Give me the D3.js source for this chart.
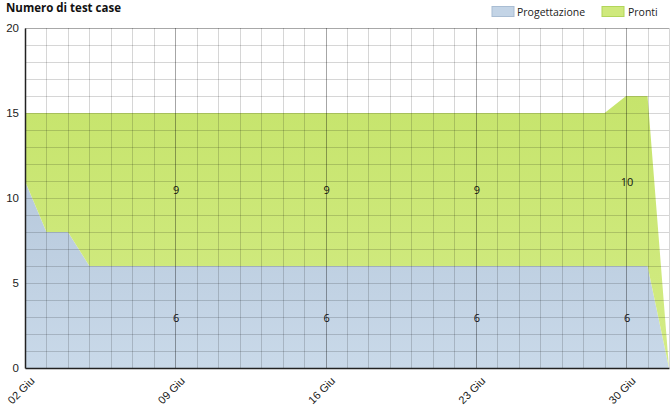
<!DOCTYPE html>
<html>
<head>
<meta charset="utf-8">
<script src="https://cdn.jsdelivr.net/npm/d3@7"></script>
<style>
  body { margin: 0; background: #fff; }
  svg { display: block; font-family: "Open Sans", "Noto Sans", sans-serif; }
</style>
</head>
<body>
<div id="chart"></div>
<script>
// data, one entry per day from 02 Giu to 02 Lug
const days = d3.range(0, 31).map(i => new Date(2013, 5, 2 + i));
const progettazione = [11, 8, 8, 6, 6, 6, 6, 6, 6, 6, 6, 6, 6, 6, 6, 6, 6, 6, 6, 6, 6, 6, 6, 6, 6, 6, 6, 6, 6, 6, 0];
const pronti =        [4, 7, 7, 9, 9, 9, 9, 9, 9, 9, 9, 9, 9, 9, 9, 9, 9, 9, 9, 9, 9, 9, 9, 9, 9, 9, 9, 9, 10, 10, 0];
const tickDates = [new Date(2013, 5, 2), new Date(2013, 5, 9), new Date(2013, 5, 16), new Date(2013, 5, 23), new Date(2013, 5, 30)];
const labelDays = [7, 14, 21, 28];
const yTicks = [0, 5, 10, 15, 20];
const seriesNames = ["Progettazione", "Pronti"];

const width = 671, height = 406;
const margin = { top: 28, right: 2, bottom: 38, left: 25 };

const svg = d3.select("#chart").append("svg")
  .attr("width", width)
  .attr("height", height);

const x = d3.scaleTime()
  .domain([days[0], days[days.length - 1]])
  .range([margin.left, width - margin.right]);
const y = d3.scaleLinear()
  .domain([0, 20])
  .range([height - margin.bottom, margin.top]);

const defs = svg.append("defs");
function grad(id, c1, c2) {
  const g = defs.append("linearGradient").attr("id", id)
    .attr("x1", 0).attr("y1", 0).attr("x2", 0).attr("y2", 1);
  g.append("stop").attr("offset", "0%").attr("stop-color", c1);
  g.append("stop").attr("offset", "100%").attr("stop-color", c2);
}
grad("gBlue", "#b7c9dc", "#c9d9e9");
grad("gGreen", "#c6e46c", "#d4ec86");

const rows = days.map((d, i) => ({ date: d, Progettazione: progettazione[i], Pronti: pronti[i] }));
const stacked = d3.stack().keys(seriesNames)(rows);

const area = d3.area()
  .x(d => x(d.data.date))
  .y0(d => y(d[0]))
  .y1(d => y(d[1]));

svg.append("g").selectAll("path")
  .data(stacked)
  .join("path")
  .attr("d", area)
  .attr("fill", (d, i) => i === 0 ? "url(#gBlue)" : "url(#gGreen)");

// grid drawn on top with transparency
const grid = svg.append("g");
grid.selectAll("line.h")
  .data(d3.range(1, 21))
  .join("line")
  .attr("x1", margin.left).attr("x2", width - margin.right)
  .attr("y1", d => Math.round(y(d)) + 0.5).attr("y2", d => Math.round(y(d)) + 0.5)
  .attr("stroke", d => d === 20 ? "#a8a8a8" : "#000")
  .attr("stroke-opacity", d => d === 20 ? 1 : 0.16);
grid.selectAll("line.v")
  .data(days.slice(1))
  .join("line")
  .attr("x1", d => Math.round(x(d)) + 0.5).attr("x2", d => Math.round(x(d)) + 0.5)
  .attr("y1", margin.top).attr("y2", height - margin.bottom)
  .attr("stroke", "#000")
  .attr("stroke-opacity", (d, i) => (i + 1) % 7 === 0 ? 0.35 : 0.16);

// value labels
const labels = svg.append("g").attr("font-size", 11).attr("fill", "#111").attr("text-anchor", "middle");
labelDays.forEach(i => {
  labels.append("text")
    .attr("x", x(days[i]) + 1)
    .attr("y", y(progettazione[i] / 2))
    .attr("dy", "0.45em")
    .text(progettazione[i]);
  labels.append("text")
    .attr("x", x(days[i]) + 1)
    .attr("y", y(progettazione[i] + pronti[i] / 2))
    .attr("dy", "0.45em")
    .text(pronti[i]);
});

// axes
const yAxis = svg.append("g")
  .attr("transform", `translate(${margin.left},0)`)
  .call(d3.axisLeft(y).tickValues(yTicks).tickSize(0).tickPadding(6));
yAxis.select(".domain").attr("stroke", "#222").attr("stroke-width", 1.5);
yAxis.selectAll("text").attr("font-size", 11.5).attr("fill", "#222").attr("font-family", null);

const fmt = d3.timeFormat("%d");
const xAxis = svg.append("g")
  .attr("transform", `translate(0,${height - margin.bottom})`)
  .call(d3.axisBottom(x).tickValues(tickDates).tickSize(0).tickFormat(d => fmt(d) + " Giu"));
xAxis.select(".domain").attr("stroke", "#222").attr("stroke-width", 1.5);
xAxis.selectAll("text")
  .attr("font-size", 11).attr("fill", "#222").attr("font-family", null)
  .attr("text-anchor", "end")
  .attr("transform", "translate(7,11) rotate(-45)")
  .attr("dy", "0.35em").attr("y", 0).attr("x", 0);

// title
svg.append("text")
  .attr("x", 6).attr("y", 12)
  .attr("font-size", 11.5).attr("font-weight", "bold").attr("fill", "#111")
  .text("Numero di test case");

// legend
const legend = svg.append("g").attr("font-size", 10.5).attr("fill", "#222");
const legPos = [{ sx: 492, tx: 517 }, { sx: 602, tx: 628 }];
seriesNames.forEach((name, i) => {
  legend.append("rect")
    .attr("x", legPos[i].sx).attr("y", 6.5).attr("width", 22).attr("height", 10)
    .attr("fill", i === 0 ? "#c3d4e6" : "#cfe97c")
    .attr("stroke", i === 0 ? "#a9bdd3" : "#b2d65a");
  legend.append("text")
    .attr("x", legPos[i].tx).attr("y", 15.5)
    .text(name);
});
</script>
</body>
</html>
